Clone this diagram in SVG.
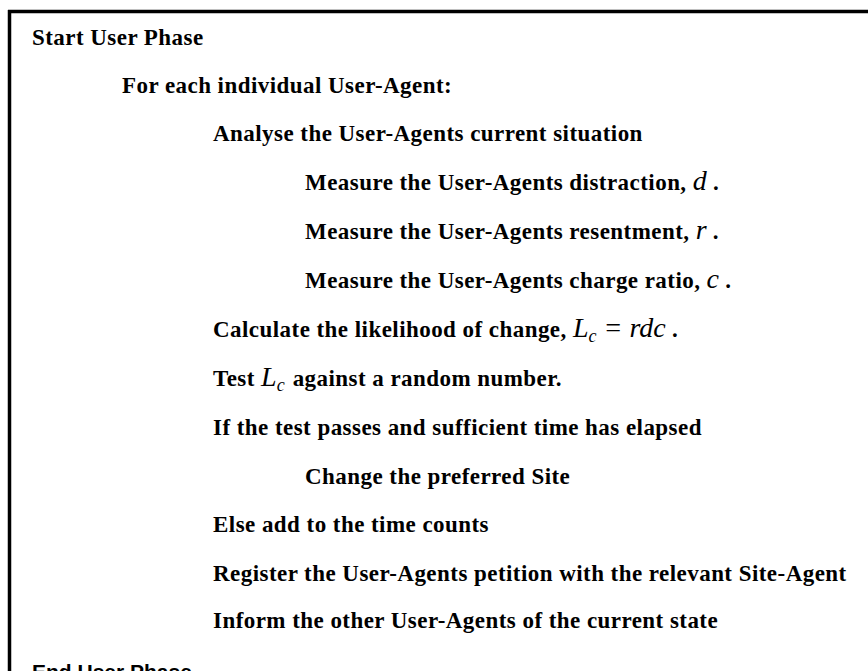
<svg xmlns="http://www.w3.org/2000/svg" width="868" height="671" viewBox="0 0 868 671">
<style>
.t{font-family:"Liberation Serif","Times New Roman",serif;font-weight:bold;font-size:23px;letter-spacing:0.45px;fill:#000}
.m{font-family:"Liberation Serif","Times New Roman",serif;font-style:italic;font-weight:normal;font-size:28px;letter-spacing:0}
.s{font-family:"Liberation Serif","Times New Roman",serif;font-style:italic;font-weight:normal;font-size:18px;letter-spacing:0}
.e{font-family:"Liberation Sans Narrow","Liberation Sans",sans-serif;font-weight:bold;font-size:21px;fill:#000}
</style>
<rect width="868" height="671" fill="#fff"/>
<g id="frame" stroke="#000" stroke-width="3.5" fill="none">
<line x1="8" y1="11.5" x2="868" y2="11.5"/>
<line x1="9.5" y1="10" x2="9.5" y2="671"/>
</g>
<g id="lines">
<text id="n1" class="t" x="32" y="45">Start User Phase</text>
<text id="n2" class="t" x="122" y="93">For each individual User-Agent:</text>
<text id="n3" class="t" x="213" y="141">Analyse the User-Agents current situation</text>
<text id="n4" class="t" x="305" y="190">Measure the User-Agents distraction, <tspan class="m">d</tspan> .</text>
<text id="n5" class="t" x="305" y="239">Measure the User-Agents resentment, <tspan class="m">r</tspan> .</text>
<text id="n6" class="t" x="305" y="288">Measure the User-Agents charge ratio, <tspan class="m">c</tspan> .</text>
<text id="n7" class="t" x="213" y="337">Calculate the likelihood of change, <tspan class="m">L</tspan><tspan class="s" dy="5">c</tspan><tspan class="m" dy="-5"> = rdc</tspan> .</text>
<text id="n8" class="t" x="213" y="386">Test <tspan class="m">L</tspan><tspan class="s" dy="5">c</tspan><tspan dy="-5" dx="8">against a random number.</tspan></text>
<text id="n9" class="t" x="213" y="435">If the test passes and sufficient time has elapsed</text>
<text id="n10" class="t" x="305" y="484">Change the preferred Site</text>
<text id="n11" class="t" x="213" y="532">Else add to the time counts</text>
<text id="n12" class="t" x="213" y="581">Register the User-Agents petition with the relevant Site-Agent</text>
<text id="n13" class="t" x="213" y="628">Inform the other User-Agents of the current state</text>
<text id="n14" class="e" x="32" y="679">End User Phase</text>
</g>
</svg>
